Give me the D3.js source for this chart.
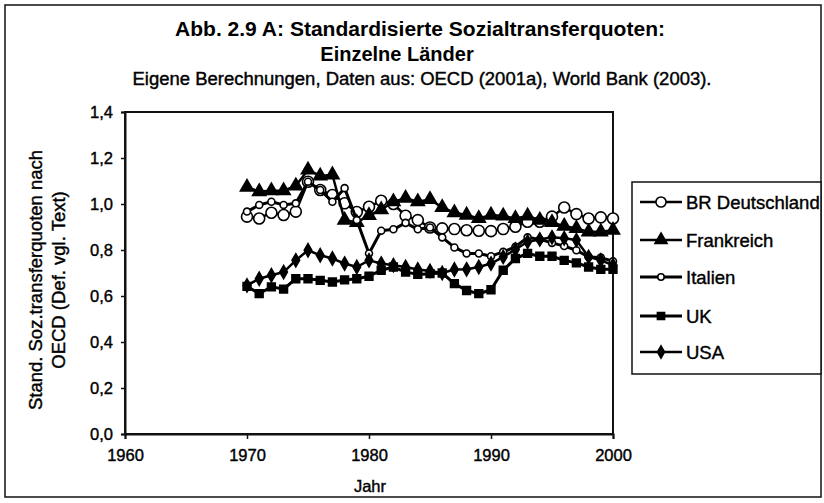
<!DOCTYPE html>
<html>
<head>
<meta charset="utf-8">
<script src="https://cdn.jsdelivr.net/npm/d3@7"></script>
<style>
  body { margin: 0; background: #ffffff; }
  svg { display: block; font-family: "Liberation Sans", Arial, sans-serif; }
  .scan { stroke: #000; stroke-width: 0.4px; fill: #000; }
</style>
</head>
<body>
<div id="chart"></div>
<script>
const years = [1970, 1971, 1972, 1973, 1974, 1975, 1976, 1977, 1978, 1979,
  1980, 1981, 1982, 1983, 1984, 1985, 1986, 1987, 1988, 1989,
  1990, 1991, 1992, 1993, 1994, 1995, 1996, 1997, 1998, 1999, 2000];

const deutschland = [0.945, 0.937, 0.962, 0.952, 0.967, 1.097, 1.061, 1.039, 1.003, 0.965,
  0.988, 1.014, 1.0, 0.949, 0.93, 0.898, 0.894, 0.891, 0.886, 0.884,
  0.882, 0.891, 0.901, 0.923, 0.923, 0.945, 0.985, 0.956, 0.937, 0.942, 0.937];
const frankreich = [1.073, 1.054, 1.058, 1.058, 1.079, 1.148, 1.122, 1.127, 0.93, 0.92,
  0.95, 0.975, 1.01, 1.025, 1.01, 1.02, 0.985, 0.962, 0.952, 0.937,
  0.952, 0.948, 0.937, 0.948, 0.93, 0.92, 0.904, 0.894, 0.879, 0.879, 0.886];
const italien = [0.967, 0.996, 1.01, 0.996, 1.003, 1.097, 1.061, 1.01, 1.069, 0.93,
  0.785, 0.884, 0.89, 0.918, 0.89, 0.898, 0.855, 0.811, 0.785, 0.785,
  0.773, 0.792, 0.814, 0.855, 0.846, 0.831, 0.817, 0.799, 0.77, 0.767, 0.751];
const uk = [0.642, 0.61, 0.64, 0.63, 0.675, 0.675, 0.668, 0.661, 0.67, 0.675,
  0.686, 0.712, 0.726, 0.704, 0.694, 0.697, 0.7, 0.654, 0.624, 0.61,
  0.627, 0.712, 0.763, 0.785, 0.773, 0.773, 0.755, 0.744, 0.726, 0.716, 0.716];
const usa = [0.646, 0.675, 0.69, 0.704, 0.755, 0.799, 0.777, 0.763, 0.741, 0.726,
  0.755, 0.741, 0.734, 0.726, 0.715, 0.709, 0.7, 0.715, 0.716, 0.726,
  0.741, 0.77, 0.802, 0.836, 0.846, 0.855, 0.851, 0.843, 0.77, 0.755, 0.734];

const seriesNames = ["BR Deutschland", "Frankreich", "Italien", "UK", "USA"];
const xTicks = [1960, 1970, 1980, 1990, 2000];
const yTicks = [0, 0.2, 0.4, 0.6, 0.8, 1.0, 1.2, 1.4];

const width = 824;
const height = 503;
const plot = { left: 125, right: 613, top: 112, bottom: 434 };

const series = [
  { name: seriesNames[0], values: deutschland, symbol: d3.symbolCircle, size: 95, fill: "#ffffff", lineWidth: 2.5 },
  { name: seriesNames[1], values: frankreich, symbol: d3.symbolTriangle, size: 75, fill: "#000000", lineWidth: 2.5 },
  { name: seriesNames[2], values: italien, symbol: d3.symbolCircle, size: 38, fill: "#ffffff", lineWidth: 3 },
  { name: seriesNames[3], values: uk, symbol: d3.symbolSquare, size: 60, fill: "#000000", lineWidth: 3 },
  { name: seriesNames[4], values: usa, symbol: d3.symbolDiamond, size: 50, fill: "#000000", lineWidth: 2.5 }
];

const x = d3.scaleLinear().domain([1960, 2000]).range([plot.left, plot.right]);
const y = d3.scaleLinear().domain([0, 1.4]).range([plot.bottom, plot.top]);
const commaFormat = (value) => d3.format(".1f")(value).replace(".", ",");

const svg = d3.select("#chart").append("svg").attr("width", width).attr("height", height);

svg.append("rect").attr("width", width).attr("height", height).attr("fill", "#ffffff");

// outer frame
svg
  .append("rect")
  .attr("x", 5)
  .attr("y", 5)
  .attr("width", 816)
  .attr("height", 492)
  .attr("fill", "none")
  .attr("stroke", "#111")
  .attr("stroke-width", 1.5);

svg
  .append("text")
  .attr("x", 420)
  .attr("y", 36)
  .attr("text-anchor", "middle")
  .attr("font-size", 20)
  .attr("font-weight", 700)
  .attr("textLength", 490)
  .attr("lengthAdjust", "spacingAndGlyphs")
  .text("Abb. 2.9 A: Standardisierte Sozialtransferquoten:");

svg
  .append("text")
  .attr("x", 397)
  .attr("y", 61)
  .attr("text-anchor", "middle")
  .attr("font-size", 20)
  .attr("font-weight", 700)
  .text("Einzelne Länder");

svg
  .append("text")
  .attr("class", "scan")
  .attr("x", 422)
  .attr("y", 85)
  .attr("text-anchor", "middle")
  .attr("font-size", 17.5)
  .attr("textLength", 579)
  .attr("lengthAdjust", "spacingAndGlyphs")
  .text("Eigene Berechnungen, Daten aus: OECD (2001a), World Bank (2003).");

// plot area border
svg
  .append("rect")
  .attr("x", plot.left)
  .attr("y", plot.top)
  .attr("width", plot.right - plot.left)
  .attr("height", plot.bottom - plot.top)
  .attr("fill", "none")
  .attr("stroke", "#111")
  .attr("stroke-width", 2);

svg
  .append("g")
  .attr("transform", `translate(${plot.left},0)`)
  .call(d3.axisLeft(y).tickValues(yTicks).tickSize(4).tickPadding(8).tickFormat(commaFormat))
  .call((axis) => axis.select(".domain").attr("stroke", "#111").attr("stroke-width", 2))
  .call((axis) => axis.selectAll("line").attr("stroke", "#111").attr("stroke-width", 1.5))
  .call((axis) =>
    axis.selectAll("text").attr("class", "scan").attr("font-size", 16.5).attr("font-family", "Liberation Sans, Arial, sans-serif")
  );

svg
  .append("g")
  .attr("transform", `translate(0,${plot.bottom})`)
  .call(d3.axisBottom(x).tickValues(xTicks).tickSize(5).tickPadding(10).tickFormat(d3.format("d")))
  .call((axis) => axis.select(".domain").attr("stroke", "#111").attr("stroke-width", 2))
  .call((axis) => axis.selectAll("line").attr("stroke", "#111").attr("stroke-width", 1.5))
  .call((axis) =>
    axis.selectAll("text").attr("class", "scan").attr("font-size", 16.5).attr("font-family", "Liberation Sans, Arial, sans-serif")
  );

svg
  .append("text")
  .attr("class", "scan")
  .attr("x", 370)
  .attr("y", 492)
  .attr("text-anchor", "middle")
  .attr("font-size", 16.5)
  .text("Jahr");

const yTitle = svg
  .append("text")
  .attr("class", "scan")
  .attr("transform", `translate(42 280) rotate(-90)`)
  .attr("text-anchor", "middle")
  .attr("font-size", 18.5);
yTitle.append("tspan").attr("x", 0).attr("dy", 0).text("Stand. Soz.transferquoten nach");
yTitle.append("tspan").attr("x", 0).attr("dy", 23).text("OECD (Def. vgl. Text)");

const line = d3
  .line()
  .x((d) => x(d[0]))
  .y((d) => y(d[1]));

const dataLayer = svg.append("g");

series.forEach((s) => {
  const points = years.map((year, i) => [year, s.values[i]]);
  const group = dataLayer.append("g");

  group
    .append("path")
    .datum(points)
    .attr("fill", "none")
    .attr("stroke", "#000")
    .attr("stroke-width", s.lineWidth)
    .attr("stroke-linejoin", "round")
    .attr("d", line);

  group
    .selectAll("path.marker")
    .data(points)
    .join("path")
    .attr("class", "marker")
    .attr("transform", (d) => `translate(${x(d[0])},${y(d[1])})`)
    .attr("d", d3.symbol().type(s.symbol).size(s.size))
    .attr("fill", s.fill)
    .attr("stroke", "#000")
    .attr("stroke-width", 1.6);
});

// legend
const legend = svg.append("g");
legend
  .append("rect")
  .attr("x", 632)
  .attr("y", 182)
  .attr("width", 189)
  .attr("height", 192)
  .attr("fill", "#ffffff")
  .attr("stroke", "#111")
  .attr("stroke-width", 1.5);

const legendRows = [202, 240, 277, 316, 352];
series.forEach((s, i) => {
  const row = legend.append("g").attr("transform", `translate(0,${legendRows[i]})`);
  row
    .append("line")
    .attr("x1", 640)
    .attr("x2", 682)
    .attr("stroke", "#000")
    .attr("stroke-width", s.lineWidth);
  row
    .append("path")
    .attr("transform", "translate(661,0)")
    .attr("d", d3.symbol().type(s.symbol).size(s.size * 0.85))
    .attr("fill", s.fill)
    .attr("stroke", "#000")
    .attr("stroke-width", 1.6);
  row
    .append("text")
    .attr("class", "scan")
    .attr("x", 686)
    .attr("y", 6.5)
    .attr("font-size", 18.5)
    .text(s.name);
});
</script>
</body>
</html>
